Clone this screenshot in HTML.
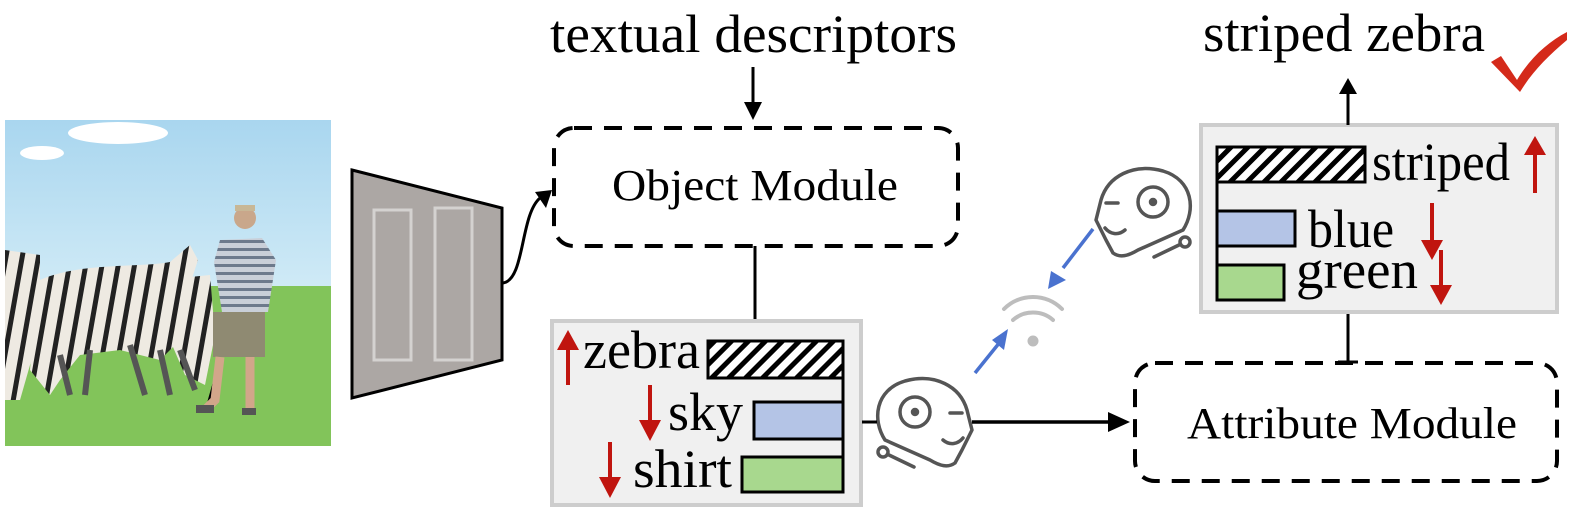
<!DOCTYPE html>
<html><head><meta charset="utf-8"><style>
html,body{margin:0;padding:0;background:#fff;}
svg{display:block;}
text{font-family:"Liberation Serif",serif;fill:#000;}
</style></head><body>
<svg width="1569" height="510" viewBox="0 0 1569 510" xmlns="http://www.w3.org/2000/svg">
<defs>
<pattern id="hatch" patternUnits="userSpaceOnUse" width="12" height="12" patternTransform="rotate(45)">
<rect width="12" height="12" fill="#fff"/><rect width="5" height="12" fill="#000"/>
</pattern>
<pattern id="zs" patternUnits="userSpaceOnUse" width="16" height="16" patternTransform="rotate(10)">
<rect width="16" height="16" fill="#eeeae2"/><rect width="5" height="16" fill="#222"/>
</pattern>
<pattern id="shirt" patternUnits="userSpaceOnUse" width="8" height="8">
<rect width="8" height="8" fill="#c9cfd8"/><rect width="8" height="3" fill="#6d7a8c"/>
</pattern>
<linearGradient id="sky" x1="0" y1="0" x2="0" y2="1">
<stop offset="0" stop-color="#a9d6ef"/><stop offset="1" stop-color="#cfeaf6"/>
</linearGradient>
</defs>

<!-- photo -->
<rect x="5" y="120" width="326" height="166" fill="url(#sky)"/>
<rect x="5" y="286" width="326" height="160" fill="#82c45a"/>
<ellipse cx="118" cy="133" rx="50" ry="11" fill="#fff"/>
<ellipse cx="42" cy="153" rx="22" ry="7" fill="#fff"/>
<path d="M5,250 L40,255 L40,330 L20,400 L5,400 Z" fill="url(#zs)"/>
<path d="M40,280 C80,262 140,268 170,262 L190,245 L198,260 L185,300 L180,340 L160,360 L120,350 L80,355 L60,380 L50,395 L30,370 L35,310 Z" fill="url(#zs)"/>
<path d="M160,280 L210,275 L215,335 L205,385 L185,375 L170,340 Z" fill="url(#zs)"/>
<path d="M60,355 L70,395 M90,350 L85,395 M130,345 L145,395 M160,350 L170,395 M180,350 L195,390" stroke="#555" stroke-width="6"/>
<circle cx="245" cy="218" r="11" fill="#c9a78b"/>
<rect x="235" y="205" width="20" height="6" fill="#c8b796"/>
<path d="M220,240 L262,238 L276,260 L268,312 L222,312 L214,262 Z" fill="url(#shirt)"/>
<rect x="213" y="312" width="52" height="45" fill="#8f8a72"/>
<path d="M220,357 L215,400 L205,410 M250,357 L250,410" stroke="#d2a68a" stroke-width="9"/>
<rect x="196" y="405" width="18" height="8" fill="#555"/>
<rect x="242" y="408" width="14" height="7" fill="#555"/>

<!-- encoder -->
<polygon points="352,170 502,208 502,360 352,398" fill="#aca7a4" stroke="#000" stroke-width="3"/>
<rect x="374" y="210" width="37" height="150" fill="none" stroke="#d4d2d0" stroke-width="3"/>
<rect x="435" y="208" width="37" height="152" fill="none" stroke="#d4d2d0" stroke-width="3"/>
<path d="M503,283 C525,280 520,215 540,198" fill="none" stroke="#000" stroke-width="3"/>
<polygon points="552,190 535,192 546,208" fill="#000"/>

<text x="550" y="52" font-size="54" textLength="407" lengthAdjust="spacingAndGlyphs">textual descriptors</text>
<line x1="753" y1="67" x2="753" y2="104" stroke="#000" stroke-width="3"/>
<polygon points="744,102 762,102 753,120" fill="#000"/>

<rect x="554" y="128" width="404" height="118" rx="20" fill="none" stroke="#000" stroke-width="4" stroke-dasharray="18,12"/>
<text x="612" y="200" font-size="44" textLength="286" lengthAdjust="spacingAndGlyphs">Object Module</text>
<line x1="755" y1="246" x2="755" y2="320" stroke="#000" stroke-width="3"/>

<!-- left bar box -->
<rect x="552" y="321" width="309" height="184" fill="#f0f0f0" stroke="#cdcdcd" stroke-width="4"/>
<rect x="708" y="341" width="135" height="37" fill="url(#hatch)" stroke="#000" stroke-width="3"/>
<rect x="754" y="402" width="89" height="37" fill="#b4c4e6" stroke="#000" stroke-width="3"/>
<rect x="742" y="457" width="101" height="35" fill="#a8d88e" stroke="#000" stroke-width="3"/>
<line x1="843" y1="340" x2="843" y2="493" stroke="#000" stroke-width="3"/>
<text x="583" y="368" font-size="54" textLength="117" lengthAdjust="spacingAndGlyphs">zebra</text>
<text x="668" y="430" font-size="54" textLength="75" lengthAdjust="spacingAndGlyphs">sky</text>
<text x="633" y="487" font-size="54" textLength="99" lengthAdjust="spacingAndGlyphs">shirt</text>
<g fill="#c0150f" stroke="#c0150f">
<line x1="568" y1="345" x2="568" y2="385" stroke-width="4"/><polygon points="557,350 579,350 568,330" stroke="none"/>
<line x1="650" y1="385" x2="650" y2="425" stroke-width="4"/><polygon points="639,420 661,420 650,441" stroke="none"/>
<line x1="610" y1="442" x2="610" y2="482" stroke-width="4"/><polygon points="599,477 621,477 610,498" stroke="none"/>
</g>

<!-- robot left -->
<g fill="none" stroke="#555" stroke-width="3.5" stroke-linecap="round" stroke-linejoin="round">
<path d="M885,440 C872,420 875,390 905,381 C935,373 960,386 967,410 L972,430 L962,450 L955,463 C948,468 940,466 930,460 L885,440"/>
<circle cx="915" cy="412" r="15"/>
<circle cx="915" cy="412" r="2.5" fill="#555"/>
<line x1="950" y1="413" x2="962" y2="413"/>
<path d="M943,440 C950,446 958,444 963,438"/>
<circle cx="883" cy="452" r="5"/>
<line x1="889" y1="455" x2="914" y2="467"/>
</g>
<line x1="862" y1="422" x2="877" y2="422" stroke="#000" stroke-width="3"/>
<line x1="972" y1="422" x2="1112" y2="422" stroke="#000" stroke-width="3.5"/>
<polygon points="1108,412 1108,432 1130,422" fill="#000"/>

<rect x="1135" y="363" width="422" height="118" rx="20" fill="none" stroke="#000" stroke-width="4" stroke-dasharray="18,12"/>
<text x="1187" y="438" font-size="44" textLength="330" lengthAdjust="spacingAndGlyphs">Attribute Module</text>
<line x1="1348" y1="313" x2="1348" y2="362" stroke="#000" stroke-width="3"/>
<line x1="1338" y1="362" x2="1358" y2="362" stroke="#000" stroke-width="3"/>

<!-- right bar box -->
<rect x="1201" y="125" width="356" height="187" fill="#f0f0f0" stroke="#cdcdcd" stroke-width="4"/>
<rect x="1217" y="147" width="148" height="35" fill="url(#hatch)" stroke="#000" stroke-width="3"/>
<rect x="1217" y="211" width="78" height="35" fill="#b4c4e6" stroke="#000" stroke-width="3"/>
<rect x="1217" y="265" width="67" height="35" fill="#a8d88e" stroke="#000" stroke-width="3"/>
<line x1="1217" y1="147" x2="1217" y2="300" stroke="#000" stroke-width="3"/>
<text x="1372" y="180" font-size="54" textLength="138" lengthAdjust="spacingAndGlyphs">striped</text>
<text x="1308" y="247" font-size="54" textLength="86" lengthAdjust="spacingAndGlyphs">blue</text>
<text x="1296" y="288" font-size="54" textLength="122" lengthAdjust="spacingAndGlyphs">green</text>
<g fill="#c0150f" stroke="#c0150f">
<line x1="1535" y1="150" x2="1535" y2="193" stroke-width="4"/><polygon points="1524,155 1546,155 1535,136" stroke="none"/>
<line x1="1432" y1="203" x2="1432" y2="245" stroke-width="4"/><polygon points="1421,240 1443,240 1432,260" stroke="none"/>
<line x1="1441" y1="250" x2="1441" y2="290" stroke-width="4"/><polygon points="1430,285 1452,285 1441,305" stroke="none"/>
</g>
<line x1="1348" y1="92" x2="1348" y2="125" stroke="#000" stroke-width="3"/>
<polygon points="1339,94 1357,94 1348,78" fill="#000"/>
<text x="1203" y="51" font-size="54" textLength="282" lengthAdjust="spacingAndGlyphs">striped zebra</text>
<path d="M1491,62 L1501,56 L1517,80 C1530,58 1548,42 1567,32 L1567,40 C1548,56 1532,72 1520,92 Z" fill="#d42a1a"/>

<!-- robot right (mirrored) -->
<g fill="none" stroke="#555" stroke-width="3.5" stroke-linecap="round" stroke-linejoin="round" transform="translate(2068,-210) scale(-1,1)">
<path d="M885,440 C872,420 875,390 905,381 C935,373 960,386 967,410 L972,430 L962,450 L955,463 C948,468 940,466 930,460 L885,440"/>
<circle cx="915" cy="412" r="15"/>
<circle cx="915" cy="412" r="2.5" fill="#555"/>
<line x1="950" y1="413" x2="962" y2="413"/>
<path d="M943,440 C950,446 958,444 963,438"/>
<circle cx="883" cy="452" r="5"/>
<line x1="889" y1="455" x2="914" y2="467"/>
</g>

<g fill="none" stroke="#bdbdbd" stroke-width="4" stroke-linecap="round">
<path d="M1004,309 C1020,293 1046,293 1062,309"/>
<path d="M1013,320 C1024,310 1042,310 1053,320"/>
<circle cx="1033" cy="341" r="3.5" fill="#bdbdbd"/>
</g>
<g stroke="#4a72cf" stroke-width="3.5" fill="#4a72cf">
<line x1="975" y1="373" x2="1000" y2="342"/>
<polygon points="1008,329 992,340 1004,350" stroke="none"/>
<line x1="1093" y1="229" x2="1063" y2="268"/>
<polygon points="1048,289 1051,271 1066,280" stroke="none"/>
</g>
</svg>
</body></html>
